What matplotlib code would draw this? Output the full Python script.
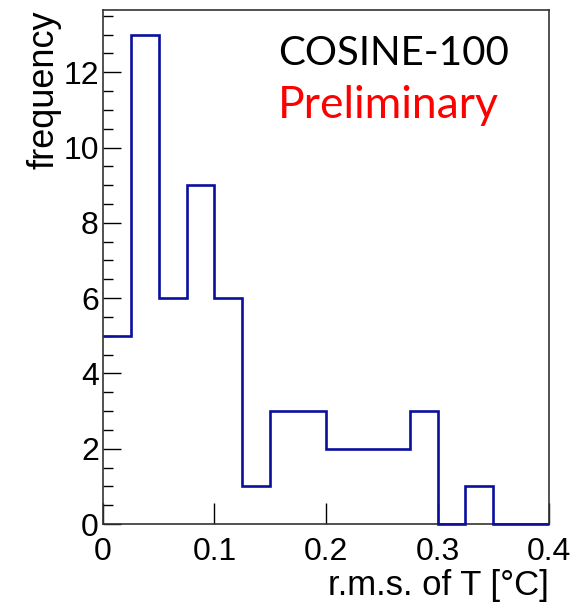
import numpy as np
import matplotlib
matplotlib.use("Agg")
import matplotlib.pyplot as plt
from matplotlib.ticker import MultipleLocator

# ── data ─────────────────────────────────────────────────────────────────────
bin_edges = [0.0, 0.025, 0.05, 0.075, 0.1, 0.125, 0.15, 0.175, 0.2,
             0.225, 0.25, 0.275, 0.3, 0.325, 0.35, 0.375, 0.4]
counts = [5, 13, 6, 9, 6, 1, 3, 3, 2, 2, 2, 3, 0, 1, 0, 0]
x_ticks = [0, 0.1, 0.2, 0.3, 0.4]
x_ticklabels = ["0", "0.1", "0.2", "0.3", "0.4"]
y_ticks = [0, 2, 4, 6, 8, 10, 12]

plt.rcParams["font.family"] = ["Liberation Sans", "DejaVu Sans"]

fig = plt.figure(figsize=(5.77, 6.06), dpi=100)
ax = fig.add_axes([0.1785, 0.1353, 0.773, 0.848])

# outline only: no closing edges at the ends, drawn over the frame
ax.stairs(counts, bin_edges, color="#0a0f9e", linewidth=1.9, baseline=None,
          clip_on=False, zorder=5)

ax.set_xlim(0, 0.4)
ax.set_ylim(0, 13.65)

ax.set_xticks(x_ticks)
ax.set_xticklabels(x_ticklabels)
ax.set_yticks(y_ticks)
ax.yaxis.set_minor_locator(MultipleLocator(0.5))

ax.tick_params(axis="both", which="both", direction="in", labelsize=23, colors="black")
ax.tick_params(axis="x", which="major", length=15, width=1, pad=9)
ax.tick_params(axis="y", which="major", length=13, width=1, pad=3)
ax.tick_params(axis="y", which="minor", length=7, width=1)
for s in ax.spines.values():
    s.set_linewidth(1.2)
    s.set_color("#333333")

ax.set_ylabel("frequency", fontsize=26, loc="top", labelpad=1)
ax.set_xlabel("r.m.s. of T [°C]", fontsize=25, loc="right", labelpad=2)

ax.text(0.392, 0.893, "COSINE-100", transform=ax.transAxes, fontsize=29,
        family=["Lato", "DejaVu Sans"], color="black", va="baseline")
ax.text(0.392, 0.79, "Preliminary", transform=ax.transAxes, fontsize=32,
        family=["Lato", "DejaVu Sans"], color="#ff0000", va="baseline")

fig.savefig("out.png", dpi=100, facecolor="white")
